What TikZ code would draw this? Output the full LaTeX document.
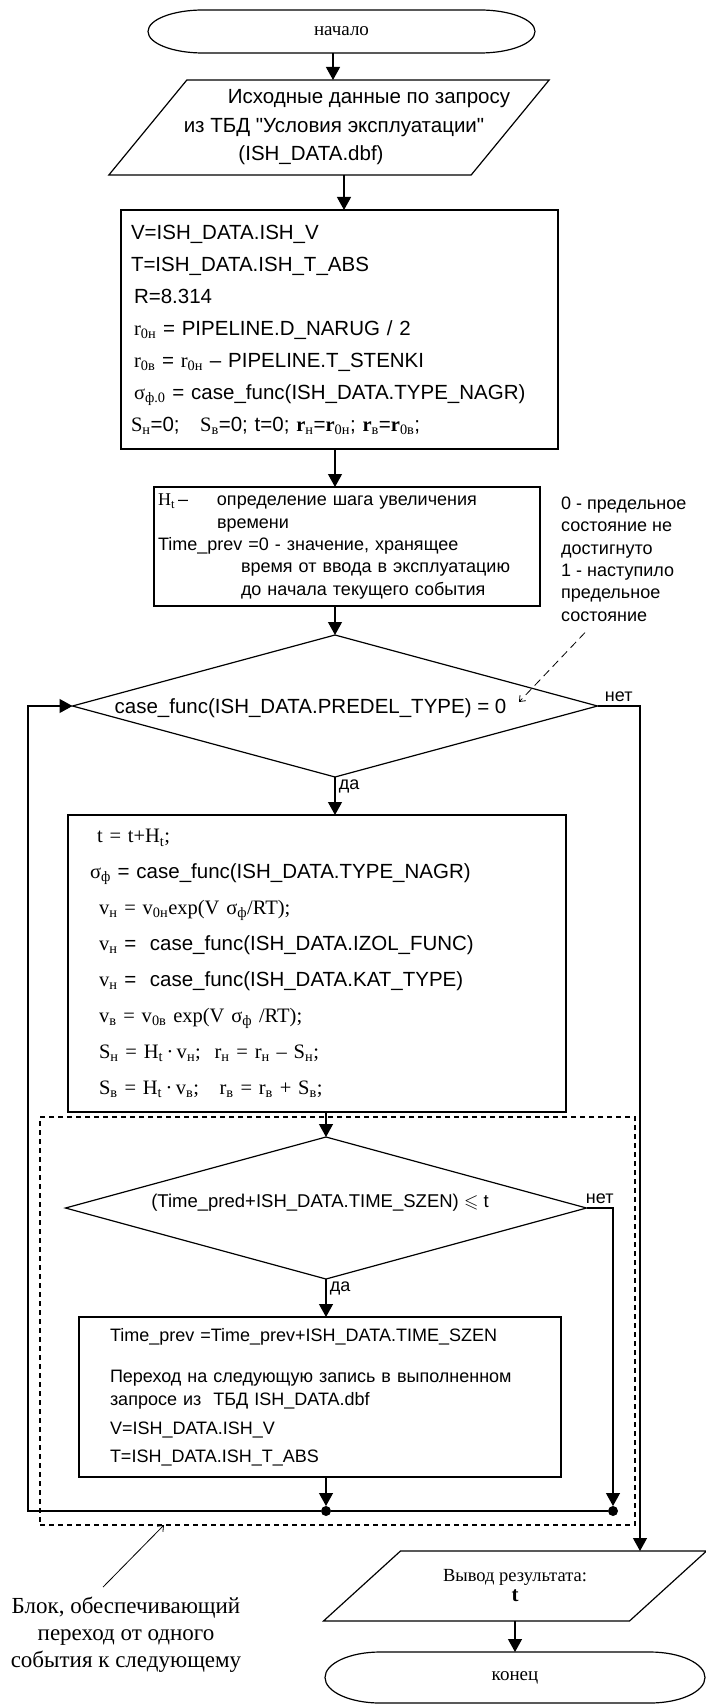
\documentclass[tikz,border=0pt]{standalone}
\usepackage{fontspec}
\setmainfont{Liberation Sans}[Ligatures=TeXOff]
\newfontfamily\tms{Liberation Serif}
\usepackage{amssymb}
\usetikzlibrary{shapes,arrows.meta,positioning}
\tikzstyle{block} = [rectangle, draw, line width=1.2pt, inner sep=0pt, outer sep=0pt, align=left]
\tikzstyle{decision} = [diamond, draw, line width=1.2pt, inner sep=0pt, outer sep=0pt]
\tikzstyle{hull} = [rectangle, inner sep=0pt, outer sep=0pt, align=center]
\tikzstyle{line} = [draw, line width=1.2pt, -{Triangle[length=13pt,width=14pt]}]
\tikzstyle{junction} = [circle, fill, inner sep=0pt, outer sep=0pt, minimum size=10pt]
\tikzstyle{remark} = [draw, line width=0.8pt, -{Straight Barb[length=5pt,width=8pt]}]
\newcommand{\tsub}[1]{\textsubscript{\tms #1}}

\begin{document}
\begin{tikzpicture}[x=1pt,y=-1pt,font=\fontsize{18}{22}\selectfont]
    \useasboundingbox (0,0) rectangle (706,1704);
    % Place nodes
    \node [hull,minimum width=387pt,minimum height=43pt,font=\tms\fontsize{19}{22}\selectfont] (start) at (341.5,31.5) {начало};
    \node [hull,below of=start,node distance=96pt,xshift=-12.5pt,minimum width=343pt,minimum height=95pt,font=\fontsize{20.5}{28.5}\selectfont] (input) {\hspace*{80pt}Исходные данные по запросу\\\hspace*{10pt}из ТБД "Условия эксплуатации"\\(ISH\_DATA.dbf)\hspace*{36pt}};
    \node [block,below of=input,node distance=202pt,xshift=10.5pt,minimum width=437pt,minimum height=239pt,text width=417pt,inner xsep=10pt,font=\fontsize{20.5}{32}\selectfont] (init) {V=ISH\_DATA.ISH\_V\\
      T=ISH\_DATA.ISH\_T\_ABS\\
      \hspace*{3pt}R=8.314\\
      \hspace*{3pt}{\tms r}\tsub{0н} = PIPELINE.D\_NARUG / 2\\
      \hspace*{3pt}{\tms r}\tsub{0в} = {\tms r}\tsub{0н} – PIPELINE.T\_STENKI\\
      \hspace*{3pt}{\tms σ}\tsub{ф.0} = case\_func(ISH\_DATA.TYPE\_NAGR)\\
      {\tms S}\tsub{н}=0;\quad{\tms S}\tsub{в}=0; t=0; {\tms\bfseries r}\tsub{н}={\tms\bfseries r}\tsub{0н}; {\tms\bfseries r}\tsub{в}={\tms\bfseries r}\tsub{0в};};
    \node [block,below of=init,node distance=217pt,xshift=7.5pt,minimum width=386pt,minimum height=119pt,text width=378pt,inner xsep=4pt,font=\fontsize{18}{22.3}\selectfont] (steps) {\makebox[59pt][l]{{\tms H}\tsub{t}\,–}определение шага увеличения\\\hspace*{59pt}времени\\Time\_prev =0 - значение, хранящее\\\hspace*{83pt}время от ввода в эксплуатацию\\\hspace*{83pt}до начала текущего события};
    \node [anchor=west,align=left,inner sep=0pt,font=\fontsize{18}{22.4}\selectfont] (note1) at (561,559) {0 - предельное\\состояние не\\достигнуто\\1 - наступило\\предельное\\состояние};
    \node [decision,below of=steps,node distance=159.5pt,xshift=-12pt,minimum width=525pt,minimum height=142pt,aspect=3.7,text height=15pt,text depth=0pt,font=\fontsize{20.5}{24}\selectfont] (decide) {case\_func(ISH\_DATA.PREDEL\_TYPE) = 0\hspace*{49pt}};
    \node [block,below of=decide,node distance=257.5pt,xshift=-18pt,minimum width=498pt,minimum height=297pt,text width=454pt,inner xsep=22pt,font=\fontsize{20.5}{35.9}\selectfont] (body) {\hspace*{7pt}{\tms t = t+H\textsubscript{t};}\\
      {\tms σ}\tsub{ф} = case\_func(ISH\_DATA.TYPE\_NAGR)\\
      \hspace*{9pt}{\tms v\textsubscript{н} = v\textsubscript{0н}exp(V σ\textsubscript{ф}/RT);}\\
      \hspace*{9pt}{\tms v}\tsub{н} = \ case\_func(ISH\_DATA.IZOL\_FUNC)\\
      \hspace*{9pt}{\tms v}\tsub{н} = \ case\_func(ISH\_DATA.KAT\_TYPE)\\
      \hspace*{9pt}{\tms v\textsubscript{в} = v\textsubscript{0в} exp(V σ\textsubscript{ф} /RT);}\\
      \hspace*{9pt}{\tms S\textsubscript{н} = H\textsubscript{t}\,·\,v\textsubscript{н};\ \ r\textsubscript{н} = r\textsubscript{н} – S\textsubscript{н};}\\
      \hspace*{9pt}{\tms S\textsubscript{в} = H\textsubscript{t}\,·\,v\textsubscript{в};\ \ \ r\textsubscript{в} = r\textsubscript{в} + S\textsubscript{в};}};
    \node [rectangle,draw,line width=1.2pt,dash pattern=on 5pt off 4pt,minimum width=595pt,minimum height=408pt,inner sep=0pt,outer sep=0pt] (blk) at (337.5,1321) {};
    \node [decision,below of=body,node distance=244.5pt,xshift=9pt,minimum width=521pt,minimum height=142pt,aspect=3.67,text height=12pt,text depth=14pt,font=\fontsize{18.5}{22}\selectfont] (event) {(Time\_pred+ISH\_DATA.TIME\_SZEN) $\leqslant$ t\hspace*{12pt}};
    \node [block,below of=event,node distance=189pt,xshift=-6pt,minimum width=482pt,minimum height=160pt,text width=420pt,inner xsep=31pt,font=\fontsize{18}{23}\selectfont] (next) {Time\_prev =Time\_prev+ISH\_DATA.TIME\_SZEN\\[18pt]Переход на следующую запись в выполненном\\запросе из\ \ ТБД ISH\_DATA.dbf\\[6pt]V=ISH\_DATA.ISH\_V\\[5pt]T=ISH\_DATA.ISH\_T\_ABS};
    \node [junction] (j1) at (326,1511) {};
    \node [junction] (j2) at (613,1511) {};
    \node [hull,minimum width=306pt,minimum height=70pt,font=\tms\fontsize{18.5}{20}\selectfont] (output) at (515,1586) {Вывод результата:\\{\bfseries\fontsize{21}{21}\selectfont t}};
    \node [hull,below of=output,node distance=91.5pt,minimum width=380pt,minimum height=51pt,font=\tms\fontsize{19}{22}\selectfont] (stop) {конец};
    \node [align=center,inner sep=0pt,font=\tms\fontsize{23}{27}\selectfont] (note2) at (126,1635) {Блок, обеспечивающий\\переход от одного\\события к следующему};

    % helper coordinates
    \coordinate (ax1) at (333,0);
    \coordinate (ax2) at (344,0);
    \coordinate (lft) at (28,0);
    \coordinate (rgt) at (640,0);
    \coordinate (zero) at (519,702);

    % terminals and io shapes
    \draw [line width=1.2pt] ([xshift=55pt]start.north west) -- ([xshift=-55pt]start.north east) arc [start angle=90,end angle=-90,x radius=55pt,y radius=21.5pt] -- ([xshift=55pt]start.south west) arc [start angle=270,end angle=90,x radius=55pt,y radius=21.5pt] -- cycle;
    \draw [line width=1.2pt] ([xshift=55pt]stop.north west) -- ([xshift=-55pt]stop.north east) arc [start angle=90,end angle=-90,x radius=55pt,y radius=25.5pt] -- ([xshift=55pt]stop.south west) arc [start angle=270,end angle=90,x radius=55pt,y radius=25.5pt] -- cycle;
    \draw [line width=1.2pt] ([xshift=39pt]input.north west) -- ([xshift=39pt]input.north east) -- ([xshift=-39pt]input.south east) -- ([xshift=-39pt]input.south west) -- cycle;
    \draw [line width=1.2pt] ([xshift=38.5pt]output.north west) -- ([xshift=38.5pt]output.north east) -- ([xshift=-38.5pt]output.south east) -- ([xshift=-38.5pt]output.south west) -- cycle;

    % Draw edges
    \path [line] (start.south -| ax1) -- (input.north -| ax1);
    \path [line] (input.south -| ax2) -- (init.north -| ax2);
    \path [line] (init.south -| decide.center) -- (steps.north -| decide.center);
    \path [line] (steps.south -| decide.center) -- (decide.north);
    \path [line] (decide.south) -- node [right,pos=0.25] {да} (body.north -| decide.center);
    \path [line] (decide.east) -- node [above] {нет} (decide.east -| rgt) -- (output.north -| rgt);
    \path [line] (body.south -| event.center) -- (event.north);
    \path [line] (event.south) -- node [right,pos=0.25] {да} (next.north -| event.center);
    \path [line] (event.east) -- node [above] {нет} (event.east -| j2) -- (j2.north);
    \path [line] (next.south -| j1) -- (j1.north);
    \path [line] (j2) -- (j1) -- (j1 -| lft) |- (decide.west);
    \path [line] (output.south -| stop.center) -- (stop.north);

    % remarks
    \path [remark,dash pattern=on 8pt off 5pt] ([shift={(24pt,-11pt)}]note1.south west) -- (zero);
    \path [remark] ([shift={(-23pt,10pt)}]note2.north) -- ([xshift=124pt]blk.south west);
\end{tikzpicture}
\end{document}
